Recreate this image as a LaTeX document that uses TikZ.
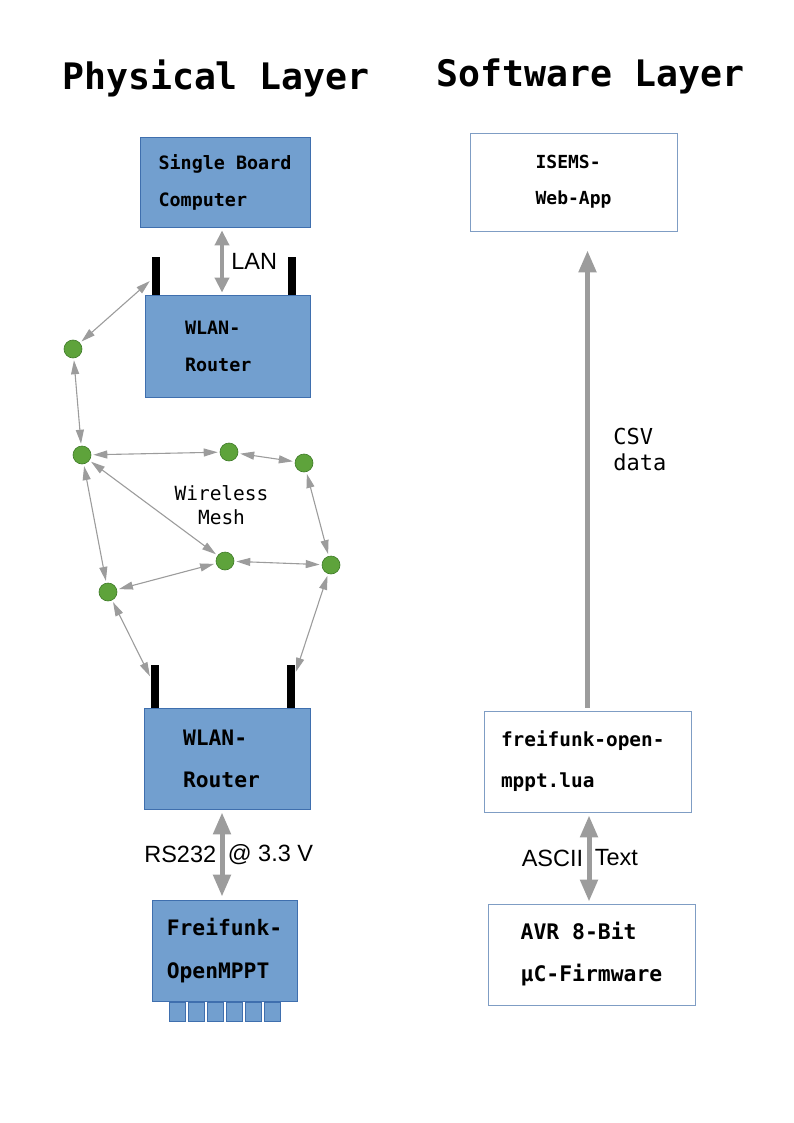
\documentclass[tikz,border=0pt]{standalone}
\usepackage{fontspec}
\setsansfont{Liberation Sans}
\setmonofont{DejaVu Sans Mono}
\usetikzlibrary{arrows.meta, positioning}
\usepackage{xcolor}
\definecolor{boxblue}{HTML}{729FCF}
\definecolor{boxedge}{HTML}{3F6FAE}
\definecolor{swedge}{HTML}{7F9DC4}
\definecolor{meshgreen}{HTML}{5EA33B}
\definecolor{meshedge}{HTML}{3E7A28}
\definecolor{arrowgrey}{HTML}{9C9C9C}

\begin{document}
\begin{tikzpicture}[x=1pt, y=-1pt]
    \tikzstyle{heading}=[font=\ttfamily\bfseries\fontsize{36.5}{40}\selectfont]
    \tikzstyle{hw}=[draw=boxedge, fill=boxblue, line width=0.8pt, rectangle, align=left, inner sep=0pt, font=\ttfamily\bfseries]
    \tikzstyle{sw}=[hw, draw=swedge, fill=white]
    \tikzstyle{antenna}=[fill=black, rectangle, inner sep=0pt, minimum width=8pt]
    \tikzstyle{plug}=[draw=boxedge, fill=boxblue, line width=0.6pt, rectangle, inner sep=0pt, minimum width=16pt, minimum height=19pt]
    \tikzstyle{meshnode}=[circle, fill=meshgreen, draw=meshedge, line width=0.6pt, minimum size=18pt, inner sep=0pt]
    \tikzstyle{meshlink}=[{Triangle[length=14pt,width=8pt]}-{Triangle[length=14pt,width=8pt]}, draw=arrowgrey, line width=1.1pt, shorten <=2pt, shorten >=2pt]
    \tikzstyle{bigarrow}=[-{Triangle[length=22pt,width=17pt]}, draw=arrowgrey, line width=5pt]
    \tikzstyle{label}=[font=\sffamily\fontsize{23.5}{26}\selectfont]
    \tikzstyle{note}=[font=\ttfamily\fontsize{19.5}{24}\selectfont, align=center]

    \useasboundingbox (0,0) rectangle (794,1123);

    \node[heading] (PL) at (216,78) {Physical Layer};
    \node[heading] (SL) at (590.5,76) {Software Layer};

%   physical layer
    \node[hw, minimum width=170pt, minimum height=90pt, font=\ttfamily\bfseries\fontsize{18.4}{37}\selectfont] (S) at (225,182) {Single Board\\Computer};
    \node[hw, minimum width=165pt, minimum height=102pt, text width=85pt, inner xsep=40pt, font=\ttfamily\bfseries\fontsize{18.4}{37}\selectfont] (R-1) at (227.5,346) {WLAN-\\Router};
    \node[antenna, minimum height=38pt] (T-1) at (155.5,276) {};
    \node[antenna, minimum height=38pt] (T-2) at (292,276) {};

    \node[hw, minimum width=166pt, minimum height=101pt, text width=88pt, inner xsep=39pt, font=\ttfamily\bfseries\fontsize{21.3}{42}\selectfont] (R-2) at (227,758.5) {WLAN-\\Router};
    \node[antenna, minimum height=43pt] (T-3) at (155,686.5) {};
    \node[antenna, minimum height=43pt] (T-4) at (291,686.5) {};

    \node[hw, minimum width=145pt, minimum height=101pt, font=\ttfamily\bfseries\fontsize{21.3}{43}\selectfont] (M) at (224.5,950.5) {Freifunk-\\OpenMPPT};
    \foreach \x in {0,...,5}{
        \pgfmathsetmacro\px{177.5+\x*19}
        \node[plug] (P-\x) at (\px,1011.5) {};
    }

    \foreach \n/\x/\y in {1/73/349, 2/82/455, 3/229/452, 4/304/463, 5/225/561, 6/331/565, 7/108/592}{
        \node[meshnode] (N-\n) at (\x,\y) {};
    }
    \node[note] (WM) at (221.5,505) {Wireless\\Mesh};

    \draw[meshlink] (N-1) -- (T-1);
    \draw[meshlink] (N-1) -- (N-2);
    \draw[meshlink] (N-2) -- (N-3);
    \draw[meshlink] (N-3) -- (N-4);
    \draw[meshlink] (N-2) -- (N-5);
    \draw[meshlink] (N-2) -- (N-7);
    \draw[meshlink] (N-7) -- (N-5);
    \draw[meshlink] (N-5) -- (N-6);
    \draw[meshlink] (N-4) -- (N-6);
    \draw[meshlink] (N-7) -- (T-3);
    \draw[meshlink] (N-6) -- (T-4);

    \draw[bigarrow, {Triangle[length=15pt,width=14pt]}-{Triangle[length=15pt,width=14pt]}, line width=4pt, shorten <=3pt, shorten >=2pt]
        ([xshift=-3pt]S.south) -- node[label, right, xshift=4pt] {LAN} ([xshift=-3pt]S.south |- R-1.north);
    \draw[bigarrow, {Triangle[length=22pt,width=17pt]}-{Triangle[length=22pt,width=17pt]}, shorten <=3pt, shorten >=3pt]
        ([xshift=-5pt]R-2.south) -- node[label, left] {RS232} node[label, right] {@ 3.3 V} ([xshift=-5pt]R-2.south |- M.north);

%   software layer
    \node[sw, minimum width=207pt, minimum height=98pt, font=\ttfamily\bfseries\fontsize{18}{36}\selectfont] (W) at (573.5,182) {ISEMS-\\Web-App};
    \node[sw, minimum width=207pt, minimum height=101pt, text width=173pt, inner xsep=17pt, font=\ttfamily\bfseries\fontsize{19.4}{41}\selectfont] (L) at (587.5,761.5) {freifunk-open-\\mppt.lua};
    \node[sw, minimum width=207pt, minimum height=101pt, font=\ttfamily\bfseries\fontsize{21.4}{42}\selectfont] (A) at (591.5,954.5) {AVR 8-Bit\\µC-Firmware};

    \draw[bigarrow, shorten <=3pt, shorten >=19pt]
        (L.north) -- node[pos=0.545, right, xshift=20pt, font=\ttfamily\fontsize{22}{26}\selectfont, align=left] {CSV\\data} (L.north |- W.south);
    \draw[bigarrow, {Triangle[length=22pt,width=17pt]}-{Triangle[length=22pt,width=17pt]}, shorten <=3pt, shorten >=2pt]
        ([xshift=1.5pt]L.south) -- node[label, left] {ASCII} node[label, right] {Text} ([xshift=1.5pt]L.south |- A.north);
\end{tikzpicture}
\end{document}
